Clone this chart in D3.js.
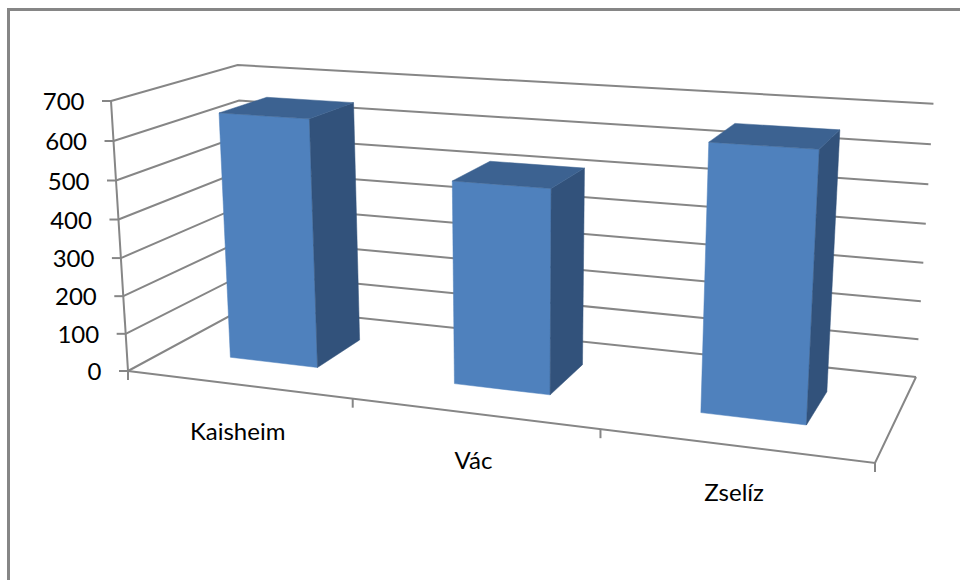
<!DOCTYPE html>
<html>
<head>
<meta charset="utf-8">
<script src="https://d3js.org/d3.v7.min.js"></script>
<style>
  html, body { margin: 0; padding: 0; background: #fff; }
  svg { display: block; }
  text { font-family: Lato, "Open Sans", sans-serif; fill: #000; }
</style>
</head>
<body>
<svg width="960" height="580"></svg>
<script>
var categories = ["Kaisheim", "Vác", "Zselíz"];
var values = [650, 520, 657];
var yTicks = [0, 100, 200, 300, 400, 500, 600, 700];

var svg = d3.select("svg");

// outer frame, only left and top are inside the crop
svg.append("path")
    .attr("d", "M8.5,580V9.5H960")
    .attr("fill", "none")
    .attr("stroke", "#868686")
    .attr("stroke-width", 3);

// unit scales for the three chart directions
var x = d3.scaleBand().domain(categories).range([0, 1]).paddingInner(0.6).paddingOuter(0.3);
var z = d3.scaleBand().domain(["depth"]).range([0, 1]).paddingInner(0.6).paddingOuter(0.3);
var y = d3.scaleLinear().domain([0, 700]).range([0, 1]);

// perspective camera, unit cube to screen
var origin = [128, 371];
var xEnd = [875, 463], yEnd = [111, 101], zEnd = [248, 306];
var wx = -0.1395, wy = -0.0416, wz = 0.1268;

function project(px, py, pz) {
  var w = 1 + wx * px + wy * py + wz * pz;
  return [0, 1].map(function(i) {
    return (origin[i]
      + (xEnd[i] * (1 + wx) - origin[i]) * px
      + (yEnd[i] * (1 + wy) - origin[i]) * py
      + (zEnd[i] * (1 + wz) - origin[i]) * pz) / w;
  });
}

var line = d3.line();
var axisColor = "#868686";

function stroke(points) {
  svg.append("path")
      .attr("d", line(points))
      .attr("fill", "none")
      .attr("stroke", axisColor)
      .attr("stroke-width", 2);
}

// gridlines on side wall and back wall
yTicks.forEach(function(t) {
  stroke([project(0, y(t), 0), project(0, y(t), 1), project(1, y(t), 1)]);
});

// floor and left axis
stroke([project(0, 0, 0), project(1, 0, 0), project(1, 0, 1)]);
stroke([project(0, 0, 0), project(0, 1, 0)]);

// value ticks and labels
yTicks.forEach(function(t) {
  var p = project(0, y(t), 0);
  stroke([[p[0] - 9, p[1]], p]);
  svg.append("text")
      .attr("x", p[0] - 26.5)
      .attr("y", p[1] + 9)
      .attr("text-anchor", "end")
      .attr("font-size", 24)
      .text(t);
});

// category ticks
[0, 1, 2, 3].forEach(function(i) {
  var p = project(i / categories.length, 0, 0);
  stroke([p, [p[0], p[1] + 9]]);
});

// bars
var barData = categories.map(function(c, i) { return { name: c, value: values[i] }; });
var z0 = z("depth"), z1 = z0 + z.bandwidth();

var bars = svg.selectAll("g.bar")
  .data(barData)
  .enter().append("g")
    .attr("class", "bar");

function face(color, corners) {
  bars.append("path")
      .attr("fill", color)
      .attr("stroke", color)
      .attr("stroke-width", 0.5)
      .attr("d", function(d) {
        var x0 = x(d.name), x1 = x0 + x.bandwidth(), top = y(d.value);
        return line(corners(x0, x1, top)) + "Z";
      });
}

face("#4f81bd", function(x0, x1, top) {
  return [project(x0, 0, z0), project(x1, 0, z0), project(x1, top, z0), project(x0, top, z0)];
});
face("#32527b", function(x0, x1, top) {
  return [project(x1, 0, z0), project(x1, 0, z1), project(x1, top, z1), project(x1, top, z0)];
});
face("#3c6291", function(x0, x1, top) {
  return [project(x0, top, z0), project(x1, top, z0), project(x1, top, z1), project(x0, top, z1)];
});

// category labels hang under the front floor edge
svg.selectAll("text.cat")
  .data(categories)
  .enter().append("text")
    .attr("class", "cat")
    .attr("text-anchor", "middle")
    .attr("font-size", 24)
    .attr("x", function(d) { return project(x(d) + x.bandwidth() / 2, 0, 0)[0]; })
    .attr("y", function(d) { return project(x(d) + x.bandwidth() / 2, 0, 0)[1] + 55; })
    .text(function(d) { return d; });
</script>
</body>
</html>
